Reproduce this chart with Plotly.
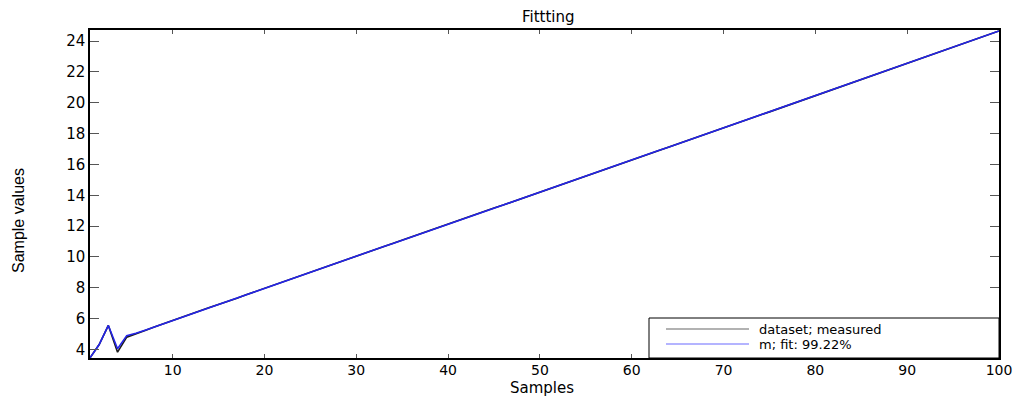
import plotly.graph_objects as go

samples = list(range(1, 101))

measured = [3.46, 4.32, 5.56, 3.83, 4.80, 5.04, 5.24, 5.46, 5.66, 5.87,
            6.08, 6.29, 6.51, 6.72, 6.91, 7.12, 7.33, 7.55, 7.76, 7.95,
            8.16, 8.36, 8.59, 8.80, 9.00, 9.20, 9.42, 9.62, 9.84, 10.04,
            10.24, 10.47, 10.70, 10.87, 11.08, 11.29, 11.50, 11.72, 11.92, 12.12,
            12.33, 12.55, 12.76, 12.96, 13.18, 13.37, 13.58, 13.79, 14.00, 14.21,
            14.42, 14.62, 14.84, 15.04, 15.24, 15.46, 15.67, 15.87, 16.08, 16.29,
            16.50, 16.72, 16.93, 17.12, 17.33, 17.54, 17.76, 17.96, 18.16, 18.37,
            18.58, 18.80, 19.01, 19.21, 19.41, 19.62, 19.84, 20.04, 20.25, 20.46,
            20.66, 20.87, 21.08, 21.29, 21.50, 21.71, 21.92, 22.12, 22.33, 22.54,
            22.75, 22.96, 23.17, 23.37, 23.58, 23.79, 24.00, 24.21, 24.42, 24.66]

fitted = [3.46, 4.32, 5.56, 4.05, 4.90, 5.05, 5.25, 5.46, 5.67, 5.87,
          6.08, 6.29, 6.50, 6.71, 6.92, 7.12, 7.33, 7.54, 7.75, 7.96,
          8.17, 8.37, 8.58, 8.79, 9.00, 9.21, 9.42, 9.62, 9.83, 10.04,
          10.25, 10.46, 10.68, 10.87, 11.08, 11.29, 11.50, 11.71, 11.92, 12.12,
          12.33, 12.54, 12.75, 12.96, 13.17, 13.37, 13.58, 13.79, 14.00, 14.21,
          14.42, 14.62, 14.83, 15.04, 15.25, 15.46, 15.67, 15.87, 16.08, 16.29,
          16.50, 16.71, 16.92, 17.12, 17.33, 17.54, 17.75, 17.96, 18.17, 18.37,
          18.58, 18.79, 19.00, 19.21, 19.42, 19.62, 19.83, 20.04, 20.25, 20.46,
          20.67, 20.87, 21.08, 21.29, 21.50, 21.71, 21.92, 22.12, 22.33, 22.54,
          22.75, 22.96, 23.17, 23.37, 23.58, 23.79, 24.00, 24.21, 24.42, 24.66]

series_names = ["dataset; measured", "m; fit: 99.22%"]
series_colors = ["#1a1a1a", "#2424e8"]
legend_colors = ["#666666", "#6a6aff"]

x_ticks = [10, 20, 30, 40, 50, 60, 70, 80, 90, 100]
y_ticks = [4, 6, 8, 10, 12, 14, 16, 18, 20, 22, 24]

WIDE = "DejaVu Sans, Verdana, sans-serif"
NARROW = "Liberation Sans, Arial, sans-serif"

# the page body adds an 8px offset, so the figure is sized to fit the window
OFF = 8
W, H = 1015, 389
ML, MR, MT, MB = 82, 24, 22, 39
PW, PH = W - ML - MR, H - MT - MB


def px(xpage):
    return (xpage - OFF - ML) / PW


def py(ypage):
    return (MT + PH - (ypage - OFF)) / PH


fig = go.Figure()
for ys, name, col in zip([measured, fitted], series_names, series_colors):
    fig.add_trace(go.Scatter(x=samples, y=ys, mode="lines", name=name,
                             line=dict(color=col, width=1.6), showlegend=False))

annotations = [
    dict(text="Fittting", xref="paper", yref="paper", x=px(548), y=py(17),
         xanchor="center", yanchor="middle", showarrow=False,
         font=dict(family=WIDE, size=15, color="black")),
    dict(text="Samples", xref="paper", yref="paper", x=px(542), y=py(388),
         xanchor="center", yanchor="middle", showarrow=False,
         font=dict(family=WIDE, size=15, color="black")),
    dict(text="Sample values", xref="paper", yref="paper", x=px(18), y=py(221),
         xanchor="center", yanchor="middle", showarrow=False, textangle=-90,
         font=dict(family=NARROW, size=16, color="black")),
]

# legend box drawn by hand (MATLAB-style, compact rows)
shapes = [dict(type="rect", xref="paper", yref="paper",
               x0=px(649), x1=1.0, y0=0.0, y1=py(318),
               line=dict(color="black", width=1), fillcolor="white", layer="above")]
for i, (name, col) in enumerate(zip(series_names, legend_colors)):
    ry = 329 + 15 * i
    shapes.append(dict(type="line", xref="paper", yref="paper",
                       x0=px(666), x1=px(749), y0=py(ry), y1=py(ry),
                       line=dict(color=col, width=1.2), layer="above"))
    annotations.append(dict(text=name, xref="paper", yref="paper",
                            x=px(757), y=py(ry), xanchor="left", yanchor="middle",
                            showarrow=False,
                            font=dict(family=WIDE, size=13, color="black")))

fig.update_layout(
    width=W, height=H,
    margin=dict(l=ML, r=MR, t=MT, b=MB, autoexpand=False),
    paper_bgcolor="white", plot_bgcolor="white",
    font=dict(family=WIDE, size=14, color="black"),
    showlegend=False,
    xaxis=dict(range=[1, 100], tickvals=x_ticks, showgrid=False, zeroline=False,
               showline=True, linecolor="black", linewidth=1.5, mirror="ticks",
               ticks="inside", ticklen=4, tickcolor="#555555", tickwidth=1,
               ticklabelstandoff=-2,
               tickfont=dict(family=WIDE, size=14, color="black")),
    yaxis=dict(range=[3.45, 24.72], tickvals=y_ticks, showgrid=False, zeroline=False,
               showline=True, linecolor="black", linewidth=1.5, mirror="ticks",
               ticks="inside", ticklen=9, tickcolor="#555555", tickwidth=1,
               tickfont=dict(family=WIDE, size=15, color="black")),
    annotations=annotations,
    shapes=shapes,
)

fig.write_html("out.html")
